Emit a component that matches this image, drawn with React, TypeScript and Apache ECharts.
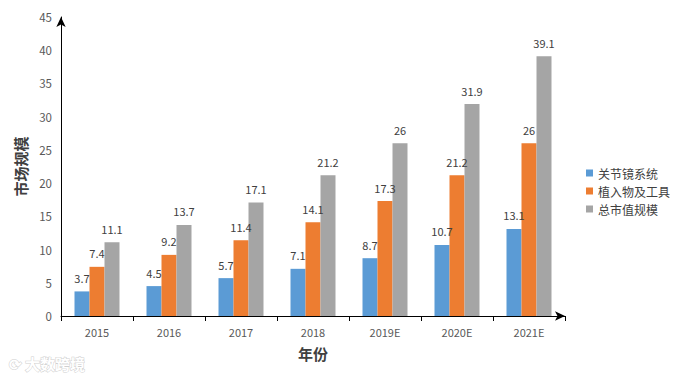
import React, { useEffect, useRef } from "react";
import * as echarts from "echarts";

const categories = ["2015", "2016", "2017", "2018", "2019E", "2020E", "2021E"];
const seriesNames = ["关节镜系统", "植入物及工具", "总市值规模"];
const arthroscopy = [3.7, 4.5, 5.7, 7.1, 8.7, 10.7, 13.1];
const implants = [7.4, 9.2, 11.4, 14.1, 17.3, 21.2, 26];
const total = [11.1, 13.7, 17.1, 21.2, 26, 31.9, 39.1];
const colors = ["#5B9BD5", "#ED7D31", "#A5A5A5"];

const FONT = "'Noto Sans CJK SC', 'Noto Sans', sans-serif";

export default function App() {
  const ref = useRef<HTMLDivElement>(null);
  useEffect(() => {
    if (!ref.current) return;
    const chart = echarts.init(ref.current, undefined, { renderer: "svg" });
    const data = [arthroscopy, implants, total];
    chart.setOption({
      animation: false,
      backgroundColor: "#ffffff",
      textStyle: { fontFamily: FONT },
      grid: { left: 61, right: 113, top: 17, bottom: 64 },
      legend: {
        orient: "vertical",
        left: 581,
        top: 162,
        itemWidth: 7,
        itemHeight: 7,
        itemGap: 6,
        icon: "rect",
        data: seriesNames,
        textStyle: { fontFamily: FONT, fontSize: 12, color: "#404040" },
      },
      xAxis: {
        type: "category",
        data: categories,
        name: "年份",
        nameLocation: "middle",
        nameGap: 30,
        nameTextStyle: { fontFamily: FONT, fontSize: 15, fontWeight: "bold", color: "#404040" },
        axisLine: { lineStyle: { color: "#000", width: 1 }, symbol: ["none", "arrow"], symbolSize: [7, 10] },
        axisTick: { show: true, length: 5, lineStyle: { color: "#000" } },
        axisLabel: { fontFamily: FONT, fontSize: 11, color: "#595959", margin: 10 },
      },
      yAxis: {
        type: "value",
        min: 0,
        max: 45,
        interval: 5,
        name: "市场规模",
        nameLocation: "middle",
        nameGap: 33,
        nameRotate: 90,
        nameTextStyle: { fontFamily: FONT, fontSize: 15, fontWeight: "bold", color: "#404040" },
        axisLine: { show: true, lineStyle: { color: "#000", width: 1 }, symbol: ["none", "arrow"], symbolSize: [7, 10] },
        axisTick: { show: false },
        splitLine: { show: false },
        axisLabel: { fontFamily: FONT, fontSize: 11.5, color: "#595959", margin: 9 },
      },
      series: seriesNames.map((name, i) => ({
        name,
        type: "bar",
        data: data[i],
        barWidth: 15,
        barGap: "0%",
        itemStyle: { color: colors[i] },
        label: {
          show: true,
          position: "top",
          distance: 8,
          fontFamily: FONT,
          fontSize: 11,
          color: "#404040",
        },
      })),
      graphic: [
        {
          type: "text",
          left: 8,
          top: 355,
          style: {
            text: "⟳ 大数跨境",
            font: "bold 15px 'Noto Sans CJK SC'",
            fill: "#ffffff",
            stroke: "#d0d0d0",
            lineWidth: 1,
          },
        },
      ],
    });
    return () => chart.dispose();
  }, []);
  return <div ref={ref} style={{ width: 678, height: 380, position: "absolute", left: 0, top: 0 }} />;
}
